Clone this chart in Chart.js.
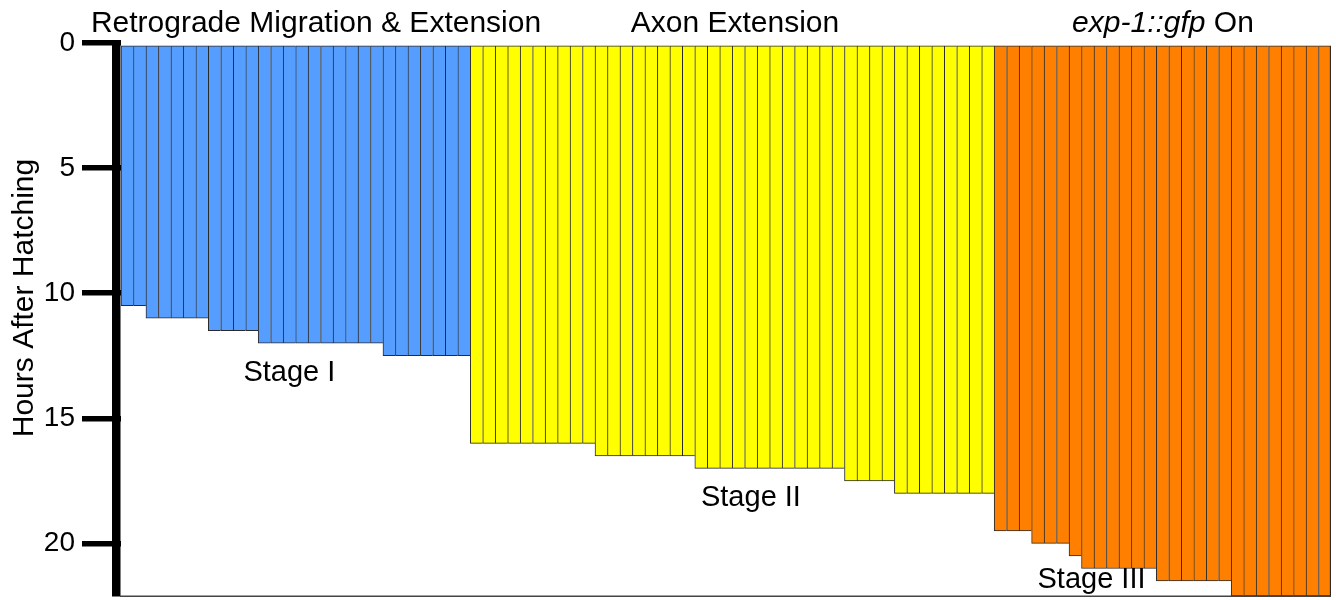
<!DOCTYPE html>
<html>
<head>
<meta charset="utf-8">
<title>Hours After Hatching</title>
<script src="https://cdn.jsdelivr.net/npm/chart.js@4.4.1/dist/chart.umd.min.js"></script>
<style>
    body { margin: 0; background: #fff; }
    canvas { display: block; }
</style>
</head>
<body>
<canvas id="myChart" width="1336" height="600"></canvas>
<script>
// hours after hatching, one entry per animal
const stageI = [10.5, 10.5,
    11, 11, 11, 11, 11,
    11.5, 11.5, 11.5, 11.5,
    12, 12, 12, 12, 12, 12, 12, 12, 12, 12,
    12.5, 12.5, 12.5, 12.5, 12.5, 12.5, 12.5];
const stageII = [16, 16, 16, 16, 16, 16, 16, 16, 16, 16,
    16.5, 16.5, 16.5, 16.5, 16.5, 16.5, 16.5, 16.5,
    17, 17, 17, 17, 17, 17, 17, 17, 17, 17, 17, 17,
    17.5, 17.5, 17.5, 17.5,
    18, 18, 18, 18, 18, 18, 18, 18];
const stageIII = [19.5, 19.5, 19.5,
    20, 20, 20,
    20.5,
    21, 21, 21, 21, 21, 21,
    21.5, 21.5, 21.5, 21.5, 21.5, 21.5,
    22.1, 22.1, 22.1, 22.1, 22.1, 22.1, 22.1, 22.1];
const tickValues = [0, 5, 10, 15, 20];
const yMax = 22.1;

const colorI = '#559EFF';
const colorII = '#FFFF00';
const colorIII = '#FF8000';

const values = stageI.concat(stageII, stageIII);
const labels = values.map((_, i) => 'n' + (i + 1));
const colors = values.map((_, i) => {
    if (i < stageI.length) return colorI;
    if (i < stageI.length + stageII.length) return colorII;
    return colorIII;
});
const lastIndex = values.length - 1;

const FONT = '"Liberation Sans", Arial, sans-serif';

// stage labels anchored to bar index / hour value
const stageLabels = [
    { text: 'Stage I', index: 13, hours: 13.2 },
    { text: 'Stage II', index: 50, hours: 18.2 },
    { text: 'Stage III', index: 77.3, hours: 21.45 }
];

const decorations = {
    id: 'decorations',
    afterDraw(chart) {
        const ctx = chart.ctx;
        const area = chart.chartArea;
        const x = chart.scales.x;
        const y = chart.scales.y;

        ctx.save();
        // thick left axis line
        ctx.fillStyle = '#000';
        ctx.fillRect(area.left - 9, area.top - 1, 8.5, area.bottom - area.top + 1.5);
        // bottom line
        ctx.fillStyle = '#444';
        ctx.fillRect(area.left - 1, area.bottom - 0.5, area.right - area.left + 1, 1.5);

        ctx.fillStyle = '#000';
        ctx.textBaseline = 'alphabetic';
        ctx.textAlign = 'center';
        ctx.font = '30px ' + FONT;
        ctx.fillText('Retrograde Migration & Extension', 316, 32);
        ctx.fillText('Axon Extension', 735, 32);

        // exp-1::gfp On, partly italic
        const italicPart = 'exp-1::gfp';
        const plainPart = ' On';
        ctx.font = 'italic 30px ' + FONT;
        const w1 = ctx.measureText(italicPart).width;
        ctx.font = '30px ' + FONT;
        const w2 = ctx.measureText(plainPart).width;
        let startX = 1163 - (w1 + w2) / 2;
        ctx.textAlign = 'left';
        ctx.font = 'italic 30px ' + FONT;
        ctx.fillText(italicPart, startX, 32);
        ctx.font = '30px ' + FONT;
        ctx.fillText(plainPart, startX + w1, 32);

        // stage labels
        ctx.font = '29px ' + FONT;
        ctx.textAlign = 'center';
        ctx.textBaseline = 'middle';
        stageLabels.forEach(s => {
            ctx.fillText(s.text, x.getPixelForValue(s.index), y.getPixelForValue(s.hours));
        });

        // y axis title
        ctx.translate(25, 298);
        ctx.rotate(-Math.PI / 2);
        ctx.font = '30px ' + FONT;
        ctx.fillText('Hours After Hatching', 0, 0);
        ctx.restore();
    }
};

const ctx = document.getElementById('myChart').getContext('2d');

window.myChart = new Chart(ctx, {
    type: 'bar',
    data: {
        labels: labels,
        datasets: [{
            data: values,
            backgroundColor: colors,
            borderColor: '#2a2a2a',
            borderSkipped: false,
            borderWidth: c => ({
                top: 1,
                left: 1,
                bottom: 1,
                right: c.dataIndex === lastIndex ? 1.5 : 0
            }),
            barPercentage: 1,
            categoryPercentage: 1
        }]
    },
    options: {
        responsive: false,
        animation: false,
        devicePixelRatio: 1,
        layout: {
            padding: { top: 43, bottom: 4, right: 5, left: 0 }
        },
        scales: {
            x: {
                display: false
            },
            y: {
                reverse: true,
                min: 0,
                max: yMax,
                afterFit: scale => {
                    scale.width = 121;
                    scale.paddingTop = 0;
                    scale.paddingBottom = 0;
                },
                afterBuildTicks: scale => {
                    scale.ticks = tickValues.map(v => ({ value: v }));
                },
                border: { display: false },
                grid: {
                    drawOnChartArea: false,
                    drawTicks: true,
                    tickLength: 39,
                    lineWidth: 5.5,
                    color: '#000'
                },
                ticks: {
                    padding: 7,
                    color: '#000',
                    font: { size: 28, family: FONT }
                }
            }
        },
        plugins: {
            legend: { display: false },
            tooltip: { enabled: false }
        }
    },
    plugins: [decorations]
});
</script>
</body>
</html>
